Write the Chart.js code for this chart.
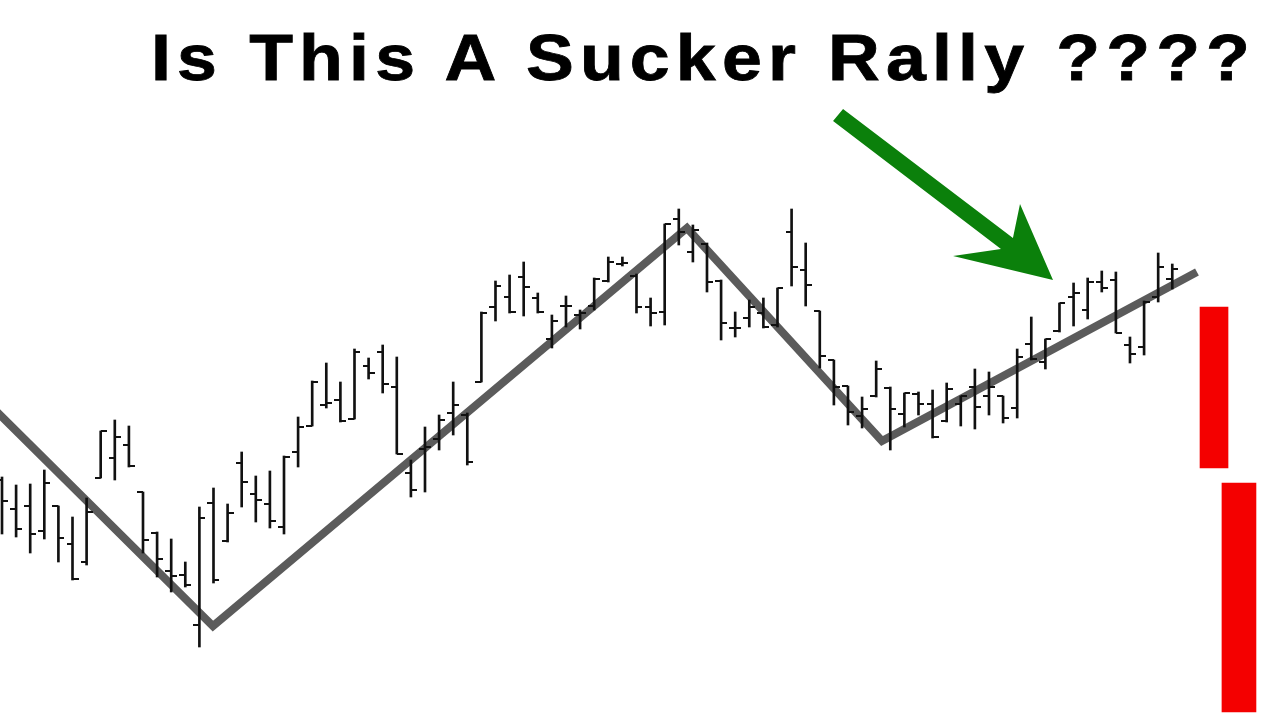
<!DOCTYPE html>
<html>
<head>
<meta charset="utf-8">
<script src="https://cdn.jsdelivr.net/npm/chart.js@4"></script>
<style>
  body { margin: 0; background: #fff; }
  #wrap { position: relative; width: 1280px; height: 720px; overflow: hidden; }
  #title {
    position: absolute; left: 151px; top: 26px; margin: 0;
    font: bold 64px/64px "Liberation Sans", Arial, sans-serif;
    letter-spacing: 5.5px; color: #000; white-space: nowrap;
    -webkit-text-stroke: 0.8px #000;
    transform: scaleX(1.12); transform-origin: 0 0;
  }
</style>
</head>
<body>
<div id="wrap">
  <canvas id="chart" width="1280" height="720"></canvas>
  <h1 id="title">Is This A Sucker Rally ????</h1>
</div>
<script>
// daily bars (price units)
const highs = [243, 235, 236, 250, 214, 203, 222, 289, 300, 294, 228, 188, 181, 158, 213, 232, 216, 268, 244, 249,
  264, 303, 339, 357, 338, 371, 362, 375, 363, 260, 293, 305, 338, 307, 408, 439, 445, 458, 427, 405,
  424, 410, 442, 463, 463, 446, 422, 496, 511, 495, 477, 440, 408, 420, 422, 432, 511, 477, 409, 360,
  334, 323, 359, 333, 327, 328, 330, 337, 324, 351, 348, 324, 371, 403, 381, 417, 437, 442, 449, 448,
  383, 419, 467, 456];
const lows = [186, 183, 167, 181, 158, 140, 155, 242, 240, 253, 167, 143, 128, 133, 73, 137, 178, 213, 198, 192,
  186, 253, 294, 312, 298, 301, 341, 327, 266, 223, 228, 270, 285, 255, 338, 399, 407, 404, 407, 372,
  393, 391, 410, 438, 454, 407, 394, 395, 475, 458, 428, 380, 383, 393, 392, 393, 434, 414, 352, 315,
  295, 292, 323, 270, 293, 305, 282, 298, 294, 291, 305, 297, 302, 360, 351, 388, 394, 401, 428, 387,
  357, 365, 418, 431];
const opens = [240, 211, 214, 189, 214, 176, 158, 242, 262, 275, 228, 187, 149, 145, 95, 217, 179, 257, 226, 216,
  193, 268, 294, 315, 320, 301, 354, 368, 333, 247, 271, 281, 307, 305, 338, 413, 423, 443, 422, 381,
  414, 405, 414, 439, 456, 444, 413, 408, 501, 468, 476, 439, 392, 402, 407, 395, 488, 450, 409, 360,
  334, 304, 324, 332, 306, 326, 316, 299, 316, 333, 324, 324, 312, 376, 358, 389, 423, 410, 438, 440,
  375, 373, 423, 441];
const closes = [219, 191, 186, 237, 182, 141, 208, 289, 283, 254, 180, 161, 144, 135, 202, 140, 207, 238, 220, 199,
  263, 293, 338, 317, 299, 368, 347, 336, 266, 230, 273, 300, 315, 258, 407, 434, 408, 433, 408, 399,
  414, 407, 441, 458, 457, 413, 407, 496, 488, 490, 438, 397, 392, 413, 393, 432, 453, 435, 364, 333,
  308, 311, 351, 311, 327, 316, 283, 331, 324, 313, 333, 302, 363, 361, 381, 417, 427, 438, 432, 387,
  366, 418, 453, 451];

// zigzag trend line (bar index, price)
const trendX = [-1, 14.96, 48.58, 62.41, 84.75];
const trendY = [317, 94, 492, 279, 448];

// red blocks on the right (bar index, [low, high])
const redX = [85.96, 87.73];
const redRanges = [[252, 413], [8, 237]];

// green arrow outline (bar index, price)
const arrowX = [59.65, 71.70, 72.20, 74.54, 67.45, 70.85, 58.94];
const arrowY = [611, 482, 516, 440, 464, 471, 599];

function tick(left) {
  const c = document.createElement('canvas');
  c.width = 12; c.height = 2;
  const g = c.getContext('2d');
  g.fillStyle = '#111';
  g.fillRect(left ? 0 : 6, 0, 6, 2);
  return c;
}

const arrowPlugin = {
  id: 'arrow',
  afterDatasetsDraw(chart) {
    const { ctx, scales: { x, y } } = chart;
    ctx.save();
    ctx.beginPath();
    arrowX.forEach((v, i) => {
      const px = x.getPixelForValue(v), py = y.getPixelForValue(arrowY[i]);
      if (i) ctx.lineTo(px, py); else ctx.moveTo(px, py);
    });
    ctx.closePath();
    ctx.fillStyle = '#0b800b';
    ctx.fill();
    ctx.restore();
  }
};

const idx = highs.map((_, i) => i);

new Chart(document.getElementById('chart'), {
  type: 'bar',
  data: {
    datasets: [
      {
        type: 'scatter', order: 0,
        data: idx.map(i => ({ x: i, y: opens[i] })),
        pointStyle: tick(true), pointRadius: 6
      },
      {
        type: 'scatter', order: 0,
        data: idx.map(i => ({ x: i, y: closes[i] })),
        pointStyle: tick(false), pointRadius: 6
      },
      {
        type: 'bar', order: 1, grouped: false,
        data: idx.map(i => ({ x: i, y: [lows[i], highs[i]] })),
        backgroundColor: '#111', borderWidth: 0, barThickness: 2
      },
      {
        type: 'bar', order: 2, grouped: false,
        data: [{ x: redX[0], y: redRanges[0] }],
        backgroundColor: '#f40000', borderWidth: 0, barThickness: 28
      },
      {
        type: 'bar', order: 2, grouped: false,
        data: [{ x: redX[1], y: redRanges[1] }],
        backgroundColor: '#f40000', borderWidth: 0, barThickness: 34
      },
      {
        type: 'line', order: 5,
        data: trendX.map((v, i) => ({ x: v, y: trendY[i] })),
        borderColor: 'rgba(50,50,50,0.8)', borderWidth: 8,
        pointRadius: 0, fill: false, tension: 0
      }
    ]
  },
  options: {
    responsive: false,
    animation: false,
    layout: { padding: 0, autoPadding: false },
    scales: {
      x: { type: 'linear', min: -0.142, max: 90.64, offset: false, display: false },
      y: { type: 'linear', min: 0, max: 720, display: false }
    },
    plugins: {
      legend: { display: false },
      tooltip: { enabled: false },
      title: { display: false }
    }
  },
  plugins: [arrowPlugin]
});
</script>
</body>
</html>
